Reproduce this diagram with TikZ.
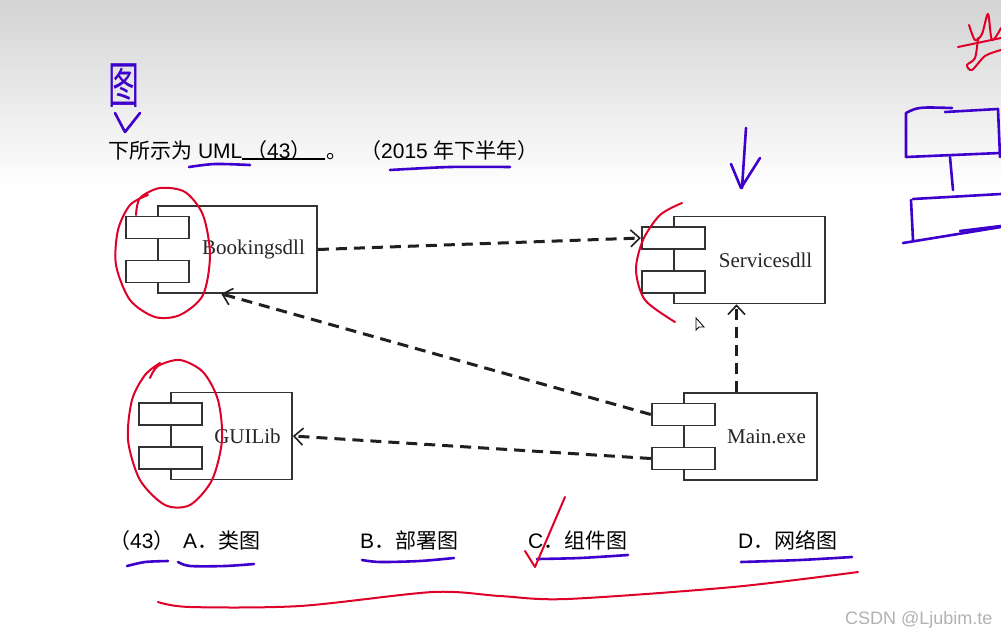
\documentclass[tikz,border=0pt]{standalone}
\usepackage{fontspec}
\setmainfont{Liberation Serif}
\setsansfont{Liberation Sans}
\newfontfamily\cjk{Noto Sans CJK SC}
\usetikzlibrary{calc,arrows.meta,positioning}
\definecolor{umlgrey}{RGB}{50,50,50}
\definecolor{penblue}{RGB}{62,0,205}
\definecolor{penred}{RGB}{222,0,40}
\definecolor{markgrey}{RGB}{178,178,178}
\tikzset{
  cbody/.style={rectangle, draw=umlgrey, fill=white, line width=1.7pt,
                minimum height=87pt, inner sep=0pt},
  cport/.style={rectangle, draw=umlgrey, fill=white, line width=1.7pt,
                minimum width=63pt, minimum height=22pt, inner sep=0pt},
  clabel/.style={xshift=16pt, inner sep=0pt, text=black!85,
                 font=\rmfamily\fontsize{21}{24}\selectfont},
  cdep/.style={-{Straight Barb[length=9pt, width=17pt, line width=1.6pt]},
               line width=3pt, black!88, dash pattern=on 11pt off 7pt},
  qtext/.style={anchor=base west, inner sep=0pt, text=black,
                font=\sffamily\fontsize{21}{24}\selectfont},
  hblue/.style={line width=2.6pt, penblue, line cap=round, line join=round},
  hred/.style ={line width=2pt, penred, line cap=round, line join=round},
}
\newcommand{\zh}[1]{{\cjk #1}}
\begin{document}
\begin{tikzpicture}[x=1pt, y=-1pt]
  \useasboundingbox (0,0) rectangle (1001,635);
  \fill[white] (0,0) rectangle (1001,635);
  \shade[top color=black!17, bottom color=white] (0,0) rectangle (1001,190);
  % question line
  \node[qtext] (q1) at (108,158) {\zh{下所示为} UML};
  \draw[line width=1.4pt] (242,159) -- (325,159);
  \node[qtext] (q2) at (246,158) {\zh{（}43\zh{）}};
  \node[qtext] (q3) at (326,158) {\zh{。}};
  \node[qtext] (q4) at (360,158) {\zh{（}2015 \zh{年下半年）}};
  % components
  \foreach \n/\cx/\cy/\w/\txt in {bk/237.5/249.5/159/Bookingsdll,
      sv/749.5/260/151/Servicesdll, gl/231.5/436/121/GUILib,
      mn/750.5/436.5/133/Main.exe} {
    \node[cbody, minimum width=\w pt, label={[clabel]center:\txt}] (\n) at (\cx,\cy) {};
    \node[cport] (\n1) at ($(\n.west)+(0,-22)$) {};
    \node[cport] (\n2) at ($(\n.west)+(0,22)$) {};
  }
  % dependencies
  \draw[cdep] (bk.east) -- (sv1.west);
  \draw[cdep] (mn1.west) -- (bk.250);
  \draw[cdep] (mn2.west) -- (gl.east);
  \draw[cdep] ($(mn.north)+(-14,0)$) coordinate (mtop) -- (mtop |- sv.south);
  % answers
  \node[qtext] (a0) at (109,548) {\zh{（}43\zh{）}};
  \node[qtext] (a1) at (183,548) {A\zh{．类图}};
  \node[qtext] (a2) at (360,548) {B\zh{．部署图}};
  \node[qtext] (a3) at (528,548) {C\zh{．组件图}};
  \node[qtext] (a4) at (738,548) {D\zh{．网络图}};
  \node[anchor=base west, inner sep=0pt, text=markgrey,
        font=\sffamily\fontsize{18}{20}\selectfont] (wm) at (845,624) {CSDN @Ljubim.te};
  % pen marks
  \node[text=penblue, inner sep=0pt, xscale=0.62,
        font=\cjk\fontsize{50}{50}\selectfont] (pen) at (124,86) {图};
  \draw[hblue] (115,113) -- (125,132) -- (140,113);
  \draw[hblue] plot[smooth] coordinates {(189,167) (215,164) (250,165)};
  \draw[hblue] plot[smooth] coordinates {(390,170) (450,167) (510,167)};
  \draw[hblue] (746,128) -- (742,188);
  \draw[hblue] (731,164) -- (741,188) -- (760,158);
  \draw[hblue] plot[smooth] coordinates {(127,566) (145,562) (168,561)};
  \draw[hblue] plot[smooth] coordinates {(178,562) (190,566) (225,566) (254,564)};
  \draw[hblue] plot[smooth] coordinates {(362,560) (380,562) (420,561) (454,558)};
  \draw[hblue] plot[smooth] coordinates {(537,559) (580,558) (628,555)};
  \draw[hblue] plot[smooth] coordinates {(741,562) (800,560) (852,557)};
  \draw[hred] plot[smooth] coordinates {(136,215) (140,198) (160,188) (185,192) (203,215)
    (210,255) (203,295) (180,315) (155,317) (130,300) (116,265) (118,230) (130,205) (148,195)};
  \draw[hred] plot[smooth] coordinates {(150,378) (158,366) (180,360) (203,372) (218,400)
    (222,440) (212,480) (190,505) (165,505) (140,480) (128,440) (132,400) (145,375) (160,363)};
  \draw[hred] plot[smooth] coordinates {(682,203) (660,215) (643,240) (636,270) (645,300) (675,322)};
  \draw[hred] (525,551) -- (535,567) -- (565,497);
  \draw[hred] plot[smooth] coordinates {(158,602) (190,607) (300,606) (433,592) (500,596)
    (567,599) (733,587) (858,572)};
  \draw[hred] plot[smooth] coordinates {(969,25) (975,40) (982,34) (988,14) (992,40) (1001,28)};
  \draw[hred] (958,47) -- (1001,38);
  \draw[hred] plot[smooth] coordinates {(978,38) (975,58) (967,65) (972,70) (985,56) (1001,50)};
  \draw[hblue] (952,108) .. controls (918,107) .. (906,113) -- (906,157) -- (1000,153);
  \draw[hblue] (945,112) -- (998,109) -- (1000,157);
  \draw[hblue] (950,157) -- (953,190);
  \draw[hblue] (913,199) -- (1001,194);
  \draw[hblue] (911,200) -- (913,240);
  \draw[hblue] (903,243) -- (1001,227);
  \draw[hblue] (960,231) -- (1001,226);
  \draw[black, fill=white, line width=0.8pt] (696,318) -- (696,330) -- (699,327)
    -- (704,327) -- cycle;
\end{tikzpicture}
\end{document}
